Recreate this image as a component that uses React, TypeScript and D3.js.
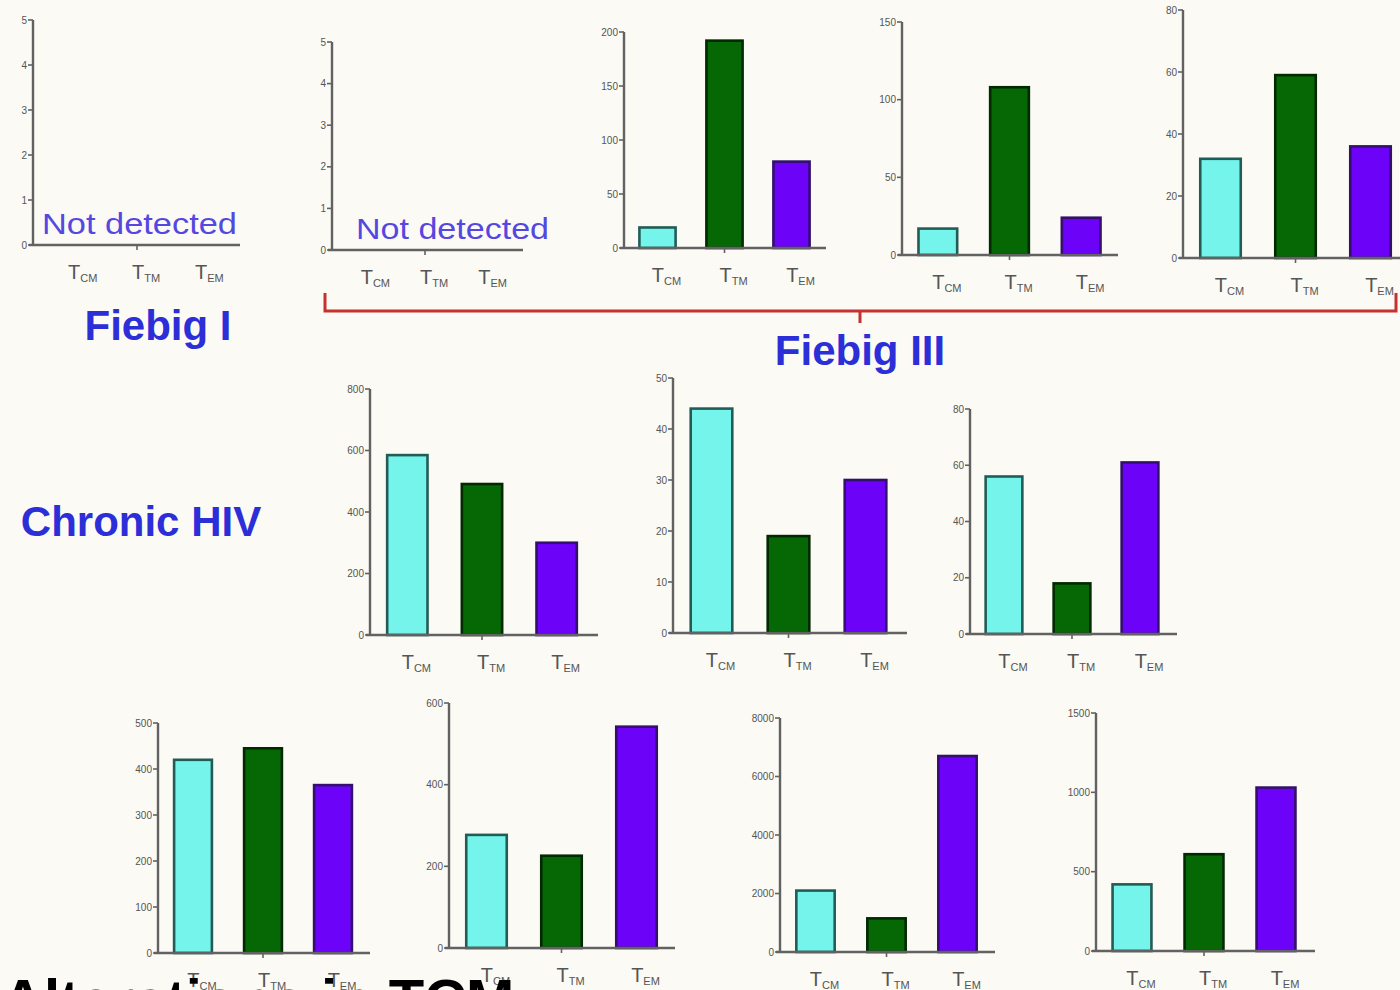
import React from "react";
import * as d3 from "d3";

// Memory T-cell subsets on the x axis
const categories = ["CM", "TM", "EM"];
const subsetFills = ["#74f4ea", "#056805", "#6c02f8"];
const subsetStrokes = ["#235c57", "#022a02", "#34106c"];

// Fiebig I (nothing detected)
const fiebigI_values: number[] | null = null;
const fiebigI_ticks = [0, 1, 2, 3, 4, 5];

// Fiebig III donors
const fiebigIII_a_values: number[] | null = null;
const fiebigIII_a_ticks = [0, 1, 2, 3, 4, 5];
const fiebigIII_b_values = [19, 192, 80];
const fiebigIII_b_ticks = [0, 50, 100, 150, 200];
const fiebigIII_c_values = [17, 108, 24];
const fiebigIII_c_ticks = [0, 50, 100, 150];
const fiebigIII_d_values = [32, 59, 36];
const fiebigIII_d_ticks = [0, 20, 40, 60, 80];

// Chronic HIV donors
const chronic_a_values = [585, 491, 300];
const chronic_a_ticks = [0, 200, 400, 600, 800];
const chronic_b_values = [44, 19, 30];
const chronic_b_ticks = [0, 10, 20, 30, 40, 50];
const chronic_c_values = [56, 18, 61];
const chronic_c_ticks = [0, 20, 40, 60, 80];
const chronic_d_values = [420, 445, 365];
const chronic_d_ticks = [0, 100, 200, 300, 400, 500];
const chronic_e_values = [277, 226, 542];
const chronic_e_ticks = [0, 200, 400, 600];
const chronic_f_values = [2100, 1150, 6700];
const chronic_f_ticks = [0, 2000, 4000, 6000, 8000];
const chronic_g_values = [420, 610, 1030];
const chronic_g_ticks = [0, 500, 1000, 1500];

type Panel = {
  values: number[] | null;
  ticks: number[];
  axisX: number;
  y0: number;
  yTop: number;
  band: [number, number];
  lineEnd: number;
  note?: [number, number];
};

const panels: Panel[] = [
  { values: fiebigI_values, ticks: fiebigI_ticks, axisX: 33, y0: 245, yTop: 20, band: [42, 232], lineEnd: 240, note: [42, 237] },
  { values: fiebigIII_a_values, ticks: fiebigIII_a_ticks, axisX: 332, y0: 250, yTop: 42, band: [337, 513], lineEnd: 523, note: [356, 549] },
  { values: fiebigIII_b_values, ticks: fiebigIII_b_ticks, axisX: 624, y0: 248, yTop: 32, band: [624, 825], lineEnd: 826 },
  { values: fiebigIII_c_values, ticks: fiebigIII_c_ticks, axisX: 902, y0: 255, yTop: 22, band: [902, 1117], lineEnd: 1118 },
  { values: fiebigIII_d_values, ticks: fiebigIII_d_ticks, axisX: 1183, y0: 258, yTop: 10, band: [1183, 1408], lineEnd: 1410 },
  { values: chronic_a_values, ticks: chronic_a_ticks, axisX: 370, y0: 635, yTop: 389, band: [370, 594], lineEnd: 598 },
  { values: chronic_b_values, ticks: chronic_b_ticks, axisX: 673, y0: 633, yTop: 378, band: [673, 904], lineEnd: 907 },
  { values: chronic_c_values, ticks: chronic_c_ticks, axisX: 970, y0: 634, yTop: 409, band: [970, 1174], lineEnd: 1177 },
  { values: chronic_d_values, ticks: chronic_d_ticks, axisX: 158, y0: 953, yTop: 723, band: [158, 368], lineEnd: 370 },
  { values: chronic_e_values, ticks: chronic_e_ticks, axisX: 449, y0: 948, yTop: 703, band: [449, 674], lineEnd: 675 },
  { values: chronic_f_values, ticks: chronic_f_ticks, axisX: 780, y0: 952, yTop: 718, band: [780, 993], lineEnd: 995 },
  { values: chronic_g_values, ticks: chronic_g_ticks, axisX: 1096, y0: 951, yTop: 713, band: [1096, 1312], lineEnd: 1315 },
];

const AXIS = "#626262";
const TITLE = "#2c2ed8";
const FONT = "Liberation Sans, Arial, sans-serif";

function BarPanel({ p }: { p: Panel }) {
  const max = p.ticks[p.ticks.length - 1];
  const y = d3.scaleLinear().domain([0, max]).range([p.y0, p.yTop]);
  const x = d3.scaleBand<string>().domain(categories).range(p.band).paddingInner(0.46).paddingOuter(0.23);
  const bw = x.bandwidth();
  return (
    <g>
      {p.values &&
        p.values.map((v, i) => (
          <rect
            key={i}
            x={x(categories[i])!}
            y={y(v)}
            width={bw}
            height={p.y0 - y(v)}
            fill={subsetFills[i]}
            stroke={subsetStrokes[i]}
            strokeWidth={2.6}
          />
        ))}
      {/* y axis */}
      <line x1={p.axisX} x2={p.axisX} y1={p.yTop} y2={p.y0} stroke={AXIS} strokeWidth={2.4} />
      {p.ticks.map((t) => (
        <g key={t}>
          <line x1={p.axisX - 5} x2={p.axisX} y1={y(t)} y2={y(t)} stroke={AXIS} strokeWidth={1.6} />
          <text x={p.axisX - 6} y={y(t) + 3.5} textAnchor="end" fontSize={10} fill="#555" fontFamily={FONT}>
            {d3.format("d")(t)}
          </text>
        </g>
      ))}
      {/* x axis */}
      <line x1={p.axisX - 4} x2={p.lineEnd} y1={p.y0} y2={p.y0} stroke={AXIS} strokeWidth={2.4} />
      <line
        x1={x(categories[1])! + bw / 2}
        x2={x(categories[1])! + bw / 2}
        y1={p.y0}
        y2={p.y0 + 5}
        stroke={AXIS}
        strokeWidth={1.6}
      />
      {categories.map((c) => (
        <text
          key={c}
          x={x(c)! + bw / 2 + 9}
          y={p.y0 + 34}
          textAnchor="middle"
          fontSize={20}
          fill="#555"
          fontFamily={FONT}
        >
          T
          <tspan fontSize={11} dy={3}>
            {c}
          </tspan>
        </text>
      ))}
      {p.note && (
        <text
          x={p.note[0]}
          y={p.y0 - 11}
          fontSize={29}
          fill="#5548e0"
          fontFamily={FONT}
          textLength={p.note[1] - p.note[0]}
          lengthAdjust="spacingAndGlyphs"
        >
          Not detected
        </text>
      )}
    </g>
  );
}

export default function App() {
  return (
    <div style={{ position: "absolute", left: 0, top: 0 }}>
      <svg width={1400} height={990} style={{ display: "block" }}>
        <rect width={1400} height={990} fill="#fbfaf4" />
        {panels.map((p, i) => (
          <BarPanel key={i} p={p} />
        ))}
        {/* brace grouping the Fiebig III donors */}
        <path
          d="M325,293 L325,311 L1396,311 L1396,293 M860,311 L860,323"
          fill="none"
          stroke="#c8302f"
          strokeWidth={3}
        />
        <text x={158} y={340} textAnchor="middle" fontSize={42} fontWeight="bold" fill={TITLE} fontFamily={FONT}>
          Fiebig I
        </text>
        <text x={860} y={365} textAnchor="middle" fontSize={42} fontWeight="bold" fill={TITLE} fontFamily={FONT}>
          Fiebig III
        </text>
        <text x={141} y={536} textAnchor="middle" fontSize={42} fontWeight="bold" fill={TITLE} fontFamily={FONT}>
          Chronic HIV
        </text>
        <text x={2} y={1020} fontSize={58} fontWeight="bold" fill="#000" fontFamily={FONT}>
          Alterations in TCM
        </text>
      </svg>
    </div>
  );
}
